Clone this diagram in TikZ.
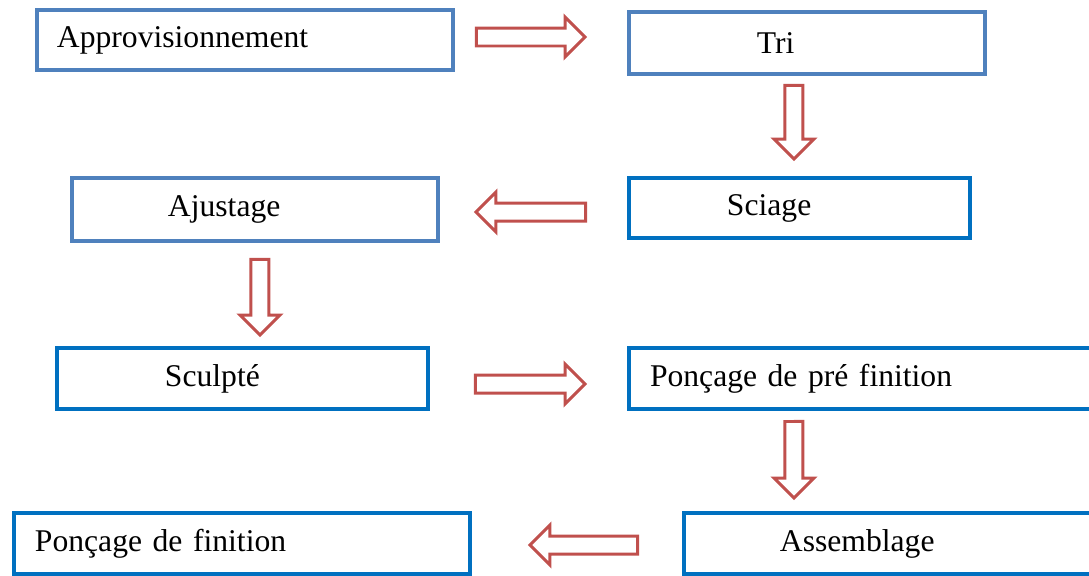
\documentclass[tikz,border=0pt]{standalone}
\usepackage{fontspec}
\setmainfont{Liberation Serif}
\usetikzlibrary{calc}
\definecolor{lightblue}{HTML}{4F81BD}
\definecolor{darkblue}{HTML}{0070C0}
\definecolor{arrowred}{HTML}{C0504D}
\tikzset{x=0.02cm, y=-0.02cm, % one unit is one pixel of the page
procbox/.style 2 args={ % Sets the properties for each box: text width, left indent
draw, line width=0.08cm,
anchor=west, align=left,
text width=#1, inner xsep=#2, inner ysep=0pt,
font=\fontsize{18}{22}\selectfont},
lightbox/.style={draw=lightblue},
darkbox/.style={draw=darkblue},
blockarrow/.style={ % Hollow block arrow from start to target
draw=arrowred, fill=white, line width=0.06cm, line join=miter,
to path={let \p1=(\tikztostart), \p2=(\tikztotarget),
\n1={atan2(\y2-\y1,\x2-\x1)}, \n2={veclen(\x2-\x1,\y2-\y1)} in
[shift={(\p1)}, rotate=\n1]
(0,-0.18cm) -- ({\n2-11.38pt},-0.18cm) -- ({\n2-11.38pt},-0.4cm) -- (\n2,0)
-- ({\n2-11.38pt},0.4cm) -- ({\n2-11.38pt},0.18cm) -- (0,0.18cm) -- cycle}}}

\begin{document}
\begin{tikzpicture}

    \useasboundingbox (0,0) rectangle (1089,575);
    \clip (0,0) rectangle (1089,575);

    \node[procbox={7.52cm}{0.40cm}, lightbox, minimum height=1.2cm] (appro) at (35,40) {Approvisionnement};
    \node[procbox={2.0cm}{2.56cm}, lightbox, minimum height=1.24cm] (tri) at (627,43) {Tri};
    \node[procbox={2.9cm}{1.96cm}, darkbox, minimum height=1.2cm] (sciage) at (627,208) {Sciage};
    \node[procbox={3.48cm}{1.92cm}, lightbox, minimum height=1.26cm] (ajustage) at (70,209.5) {Ajustage};
    \node[procbox={3.1cm}{2.16cm}, darkbox, minimum height=1.22cm] (sculpte) at (55,378.5) {Sculpté};
    \node[procbox={8.68cm}{0.42cm}, darkbox, minimum height=1.22cm] (poncpre) at (627,378.5) {Ponçage de pré finition};
    \node[procbox={4.58cm}{1.92cm}, darkbox, minimum height=1.22cm] (assemblage) at (682,543.5) {Assemblage};
    \node[procbox={8.28cm}{0.42cm}, darkbox, minimum height=1.22cm] (poncfin) at (12,543.5) {Ponçage de finition};

    \draw[blockarrow] ([shift={(21.5,-3)}]appro.east) to ([shift={(-42,-6)}]tri.west);
    \draw[blockarrow] ([shift={(-13,9.5)}]tri.south) to ([shift={(-5.5,-17)}]sciage.north);
    \draw[blockarrow] ([shift={(-41.5,4)}]sciage.west) to ([shift={(36,2.5)}]ajustage.east);
    \draw[blockarrow] ([shift={(5,16.5)}]ajustage.south) to ([shift={(17.5,-11)}]sculpte.north);
    \draw[blockarrow] ([shift={(45.5,5.5)}]sculpte.east) to ([shift={(-42,5.5)}]poncpre.west);
    \draw[blockarrow] ([shift={(-73,10.5)}]poncpre.south) to ([shift={(-100.5,-13)}]assemblage.north);
    \draw[blockarrow] ([shift={(-44.5,1.5)}]assemblage.west) to ([shift={(58,1.5)}]poncfin.east);

\end{tikzpicture}
\end{document}
